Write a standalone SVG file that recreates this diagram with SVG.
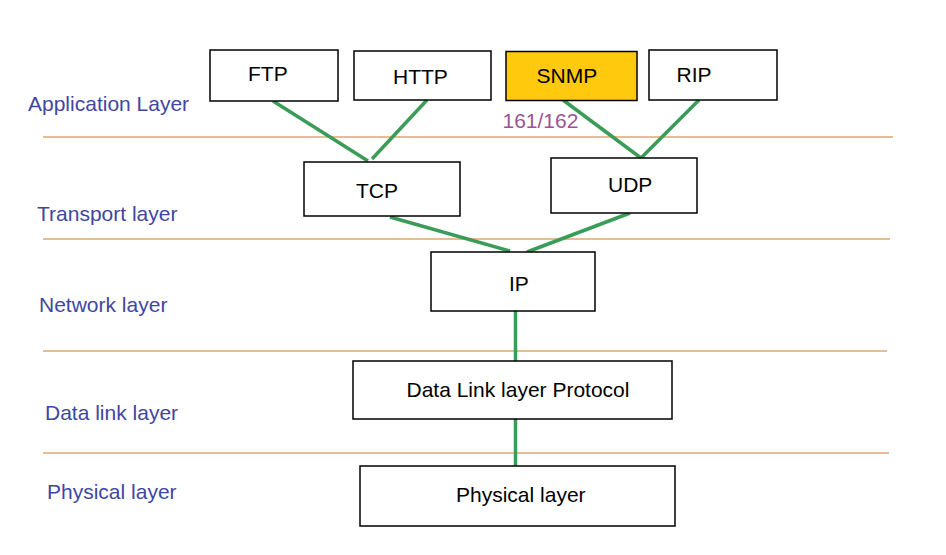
<svg xmlns="http://www.w3.org/2000/svg" width="946" height="555" viewBox="0 0 946 555">
<style>
.box{fill:#fff;stroke:#000;stroke-width:1.5}
.t{font-family:"Liberation Sans",Arial,sans-serif;font-size:21px;fill:#000}
.lbl{font-family:"Liberation Sans",Arial,sans-serif;font-size:21px;fill:#3f47a0}
.sep{stroke:#e0a56c;stroke-width:1.5}
.c{stroke:#3a9c57;stroke-width:3.5;fill:none}
</style>
<rect width="946" height="555" fill="#fff"/>
<g id="separators">
<line class="sep" x1="43" y1="137" x2="893" y2="137"/>
<line class="sep" x1="43" y1="239" x2="890" y2="239"/>
<line class="sep" x1="43" y1="351" x2="887" y2="351"/>
<line class="sep" x1="43" y1="453" x2="889" y2="453"/>
</g>
<g id="layer-labels">
<text class="lbl" x="28" y="111">Application Layer</text>
<text class="lbl" x="37" y="221">Transport layer</text>
<text class="lbl" x="39" y="312">Network layer</text>
<text class="lbl" x="45" y="420">Data link layer</text>
<text class="lbl" x="47" y="499">Physical layer</text>
</g>
<g id="connectors">
<line class="c" x1="273" y1="101" x2="368" y2="161"/>
<line class="c" x1="427" y1="100" x2="372" y2="159"/>
<line class="c" x1="563" y1="100" x2="641" y2="158"/>
<line class="c" x1="699" y1="100" x2="641" y2="158"/>
<line class="c" x1="390" y1="217" x2="510" y2="251"/>
<line class="c" x1="630" y1="213" x2="527" y2="252"/>
<line class="c" x1="515.5" y1="311" x2="515.5" y2="362"/>
<line class="c" x1="515.5" y1="419" x2="515.5" y2="467"/>
</g>
<g id="ftp"><rect class="box" x="210" y="50" width="128" height="51"/><text class="t" x="248" y="81">FTP</text></g>
<g id="http"><rect class="box" x="354" y="51" width="137" height="49"/><text class="t" x="393" y="84">HTTP</text></g>
<g id="snmp"><rect x="506" y="51.5" width="131" height="49" fill="#ffc90e" stroke="#000" stroke-width="1.5"/><text class="t" x="536.5" y="82.5">SNMP</text></g>
<g id="rip"><rect class="box" x="649" y="50" width="128" height="50"/><text class="t" x="676.5" y="81.5">RIP</text></g>
<g id="snmp-port"><text x="502.5" y="128" font-family="Liberation Sans, Arial, sans-serif" font-size="21" fill="#9a5597">161/162</text></g>
<g id="tcp"><rect class="box" x="304" y="162" width="156" height="54"/><text class="t" x="356" y="198">TCP</text></g>
<g id="udp"><rect class="box" x="551" y="158" width="146" height="55"/><text class="t" x="608" y="192">UDP</text></g>
<g id="ip"><rect class="box" x="431" y="252" width="164" height="59"/><text class="t" x="509" y="291">IP</text></g>
<g id="datalink"><rect class="box" x="353" y="361" width="319" height="58"/><text class="t" x="406.5" y="397">Data Link layer Protocol</text></g>
<g id="physical"><rect class="box" x="360" y="466" width="315" height="60"/><text class="t" x="456" y="501.5">Physical layer</text></g>
</svg>
